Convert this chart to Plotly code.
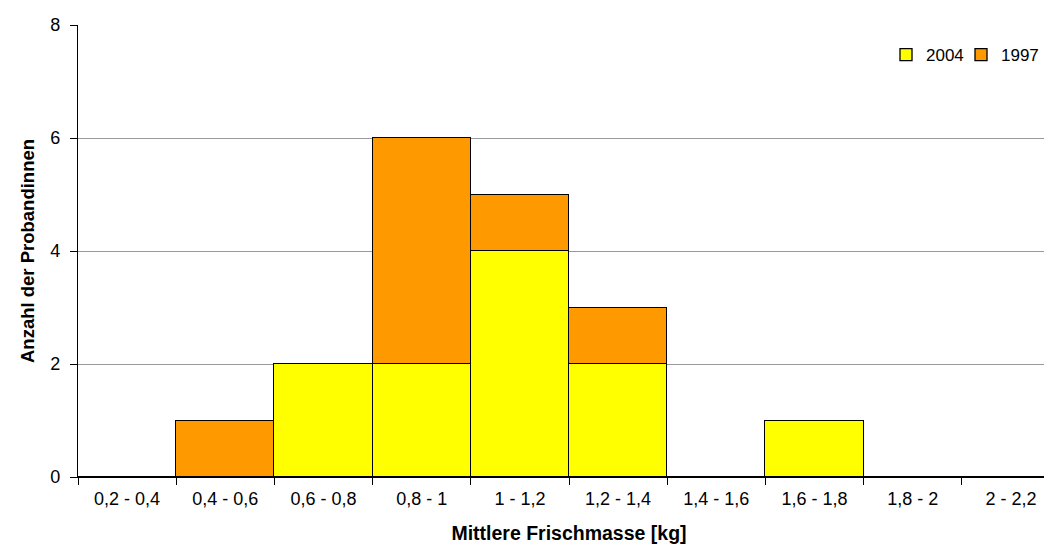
import plotly.graph_objects as go

categories = ["0,2 - 0,4", "0,4 - 0,6", "0,6 - 0,8", "0,8 - 1", "1 - 1,2",
              "1,2 - 1,4", "1,4 - 1,6", "1,6 - 1,8", "1,8 - 2", "2 - 2,2"]
values_2004 = [0, 0, 2, 2, 4, 2, 0, 1, 0, 0]
values_1997 = [0, 1, 0, 4, 1, 1, 0, 0, 0, 0]
y_ticks = [0, 2, 4, 6, 8]

font_family = "Liberation Sans, Arial, sans-serif"

fig = go.Figure()
fig.add_trace(go.Bar(x=categories, y=values_2004, name="2004", legend="legend",
                     marker=dict(color="#FFFF00", line=dict(color="#000000", width=1.3))))
fig.add_trace(go.Bar(x=categories, y=values_1997, name="1997", legend="legend2",
                     marker=dict(color="#FF9900", line=dict(color="#000000", width=1.3))))

legend_common = dict(orientation="h", yref="container", xref="container",
                     y=1 - 47 / 548, yanchor="middle", xanchor="left",
                     font=dict(size=17), bgcolor="rgba(0,0,0,0)")

fig.update_layout(
    width=1052, height=548,
    barmode="stack", bargap=0,
    plot_bgcolor="white", paper_bgcolor="white",
    margin=dict(l=70, r=0, t=17, b=79, autoexpand=False),
    font=dict(family=font_family, size=18, color="#000000"),
    legend=dict(x=878 / 1052, **legend_common),
    legend2=dict(x=953 / 1052, **legend_common),
    showlegend=True,
)
fig.update_xaxes(
    title=dict(text="<b>Mittlere Frischmasse [kg]</b>", font=dict(size=19.5), standoff=18),
    showline=True, linecolor="#000000", linewidth=1.3,
    ticks="outside", ticklen=7, tickcolor="#000000", tickwidth=1.3,
    tickson="boundaries", showgrid=False,
    ticklabelstandoff=5, automargin=False,
)
fig.update_yaxes(
    title=dict(text="<b>Anzahl der Probandinnen</b>", font=dict(size=18.5), standoff=10),
    range=[0, 8], tickvals=y_ticks,
    showline=True, linecolor="#000000", linewidth=1.3,
    ticks="outside", ticklen=7, tickcolor="#000000", tickwidth=1.3,
    showgrid=True, gridcolor="#999999", gridwidth=1,
    zeroline=False, ticklabelstandoff=6, automargin=False,
)

fig.write_html("out.html")
